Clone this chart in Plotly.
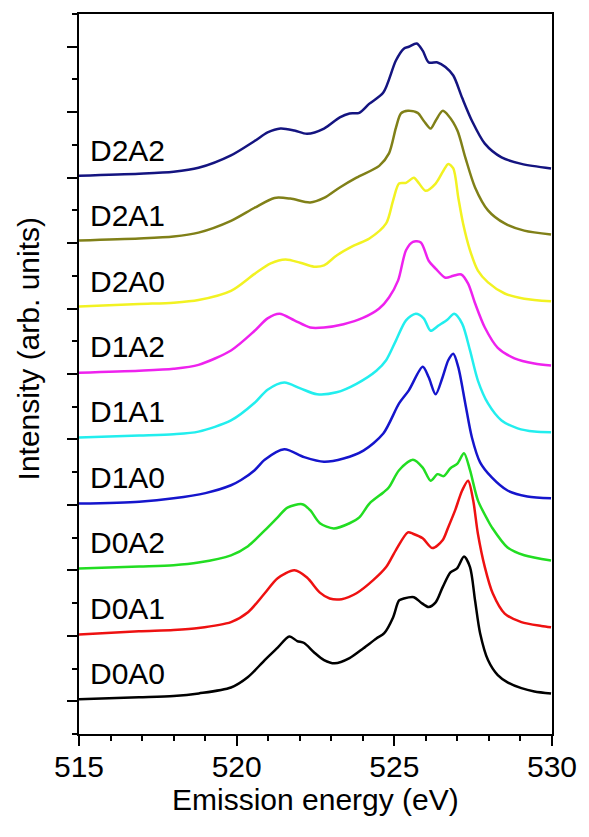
import plotly.graph_objects as go

# Series names (bottom to top) and vertical offsets
names = ["D0A0", "D0A1", "D0A2", "D1A0", "D1A1", "D1A2", "D2A0", "D2A1", "D2A2"]
offsets = [0, 1, 2, 3, 4, 5, 6, 7, 8]
colors = ["#000000", "#ee1111", "#22dd22", "#1515cc", "#22eeee",
          "#ee22ee", "#f2f222", "#808018", "#141480"]

d0a0_e = [515, 516.9, 518, 518.8, 519.82, 520.36, 520.89, 521.3, 521.67, 521.92, 522.14, 522.45, 522.77, 523.11,
          523.58, 524.02, 524.43, 524.68, 524.96, 525.15, 525.3, 525.62, 525.84, 526.09, 526.31, 526.53,
          526.78, 526.99, 527.21, 527.4, 527.56, 527.72, 527.97, 528.28, 528.59, 529.03, 529.44, 529.97]
d0a0_i = [0.03, 0.06, 0.08, 0.12, 0.21, 0.37, 0.63, 0.82, 0.99, 0.92, 0.89, 0.75, 0.63, 0.58,
          0.66, 0.81, 0.96, 1.04, 1.28, 1.54, 1.57, 1.59, 1.51, 1.44, 1.51, 1.74,
          1.97, 2.03, 2.21, 2.05, 1.54, 1.04, 0.63, 0.40, 0.29, 0.20, 0.15, 0.12]

d0a1_e = [515, 516.9, 518, 518.79, 519.82, 520.36, 520.89, 521.3, 521.83, 522.23, 522.64, 522.95, 523.33, 523.8,
          524.33, 524.74, 525.05, 525.43, 525.59, 525.9, 526.21, 526.53, 526.71, 526.93, 527.15, 527.34,
          527.5, 527.65, 527.87, 528.12, 528.5, 529.03, 529.66, 529.97]
d0a1_i = [0.02, 0.07, 0.09, 0.12, 0.21, 0.36, 0.65, 0.88, 1.00, 0.89, 0.66, 0.57, 0.56, 0.65,
          0.85, 1.05, 1.31, 1.58, 1.56, 1.49, 1.34, 1.46, 1.66, 1.92, 2.22, 2.37,
          2.07, 1.56, 1.05, 0.65, 0.34, 0.21, 0.15, 0.13]

d0a2_e = [515, 516.91, 518, 518.79, 519.82, 520.36, 520.89, 521.3, 521.61, 522.08, 522.33, 522.64, 523.08, 523.58,
          523.89, 524.21, 524.65, 524.83, 525.15, 525.59, 525.9, 526.15, 526.37, 526.56, 526.78, 527.0,
          527.21, 527.4, 527.65, 527.97, 528.09, 528.59, 529.12, 529.97]
d0a2_i = [0.03, 0.06, 0.08, 0.12, 0.23, 0.37, 0.61, 0.81, 0.96, 1.01, 0.92, 0.72, 0.64, 0.72,
          0.81, 1.02, 1.19, 1.27, 1.53, 1.69, 1.57, 1.37, 1.47, 1.44, 1.56, 1.63,
          1.79, 1.53, 1.07, 0.76, 0.66, 0.35, 0.23, 0.15]

d1a0_e = [515, 516.91, 518, 519.01, 519.82, 520.14, 520.57, 520.89, 521.51, 522.14, 522.77, 523.39, 524.02, 524.65,
          525.15, 525.46, 525.9, 526.09, 526.31, 526.53, 526.71, 526.87, 527.03, 527.25, 527.46, 527.72,
          528.09, 528.59, 529.22, 529.97]
d1a0_i = [0.02, 0.05, 0.10, 0.18, 0.30, 0.38, 0.53, 0.69, 0.85, 0.73, 0.66, 0.71, 0.83, 1.09,
          1.55, 1.75, 2.11, 1.95, 1.69, 1.95, 2.21, 2.31, 2.10, 1.55, 1.03, 0.65,
          0.42, 0.22, 0.13, 0.10]

d1a1_e = [515, 516.91, 518, 518.79, 519.82, 520.57, 520.98, 521.51, 522.02, 522.55, 523.17, 523.8, 524.43, 524.74,
          525.05, 525.37, 525.68, 525.93, 526.15, 526.4, 526.68, 526.9, 527.15, 527.4, 527.65, 527.97,
          528.4, 528.91, 529.44, 529.97]
d1a1_i = [0.03, 0.06, 0.08, 0.12, 0.29, 0.56, 0.76, 0.87, 0.78, 0.69, 0.72, 0.85, 1.05, 1.21,
          1.51, 1.82, 1.92, 1.85, 1.66, 1.74, 1.83, 1.92, 1.77, 1.36, 0.90, 0.55,
          0.29, 0.17, 0.12, 0.11]

d1a2_e = [515, 516.91, 518, 518.79, 519.82, 520.57, 520.98, 521.36, 521.83, 522.33, 522.77, 523.39, 524.02, 524.52,
          524.83, 525.12, 525.37, 525.59, 525.84, 526.09, 526.31, 526.62, 526.87, 527.12, 527.34, 527.56,
          527.87, 528.28, 528.81, 529.44, 529.97]
d1a2_i = [0.02, 0.05, 0.08, 0.14, 0.36, 0.66, 0.85, 0.92, 0.82, 0.71, 0.71, 0.76, 0.86, 1.00,
          1.17, 1.43, 1.89, 2.02, 2.01, 1.73, 1.61, 1.47, 1.50, 1.52, 1.38, 1.08,
          0.71, 0.40, 0.24, 0.16, 0.13]

d2a0_e = [515, 516.91, 518, 518.79, 519.82, 520.57, 521.08, 521.55, 522.02, 522.45, 522.77, 523.17, 523.71, 524.21,
          524.74, 524.96, 525.15, 525.37, 525.62, 525.77, 525.99, 526.31, 526.56, 526.71, 526.87, 527.03,
          527.18, 527.4, 527.65, 527.97, 528.5, 529.12, 529.97]
d2a0_i = [0.03, 0.07, 0.09, 0.13, 0.27, 0.53, 0.69, 0.75, 0.70, 0.64, 0.66, 0.81, 0.96, 1.07,
          1.30, 1.65, 1.91, 1.92, 2.00, 1.92, 1.80, 1.91, 2.11, 2.21, 2.14, 1.69,
          1.30, 0.89, 0.58, 0.40, 0.23, 0.15, 0.11]

d2a1_e = [515, 516.91, 518, 518.79, 519.82, 520.57, 521.2, 521.7, 522.33, 522.77, 523.27, 523.8, 524.52, 524.83,
          525.05, 525.21, 525.43, 525.74, 525.93, 526.15, 526.31, 526.53, 526.71, 527.0, 527.25, 527.56,
          527.97, 528.5, 529.12, 529.97]
d2a1_i = [0.04, 0.07, 0.10, 0.16, 0.34, 0.54, 0.69, 0.68, 0.62, 0.69, 0.85, 1.00, 1.18, 1.37,
          1.76, 1.98, 2.02, 1.99, 1.87, 1.75, 1.87, 2.02, 1.95, 1.72, 1.31, 0.85,
          0.50, 0.30, 0.19, 0.13]

d2a2_e = [515, 516.91, 518, 518.79, 519.82, 520.57, 520.98, 521.39, 521.83, 522.23, 522.77, 523.27, 523.58, 523.89,
          524.21, 524.65, 525.05, 525.3, 525.46, 525.71, 525.9, 526.09, 526.37, 526.62, 526.87, 527.15,
          527.46, 527.87, 528.4, 529.03, 529.97]
d2a2_i = [0.03, 0.06, 0.09, 0.15, 0.34, 0.56, 0.69, 0.75, 0.72, 0.67, 0.75, 0.92, 0.98, 0.99,
          1.13, 1.30, 1.79, 1.97, 2.00, 2.05, 1.94, 1.76, 1.76, 1.69, 1.56, 1.22,
          0.87, 0.52, 0.31, 0.21, 0.14]

energies = [d0a0_e, d0a1_e, d0a2_e, d1a0_e, d1a1_e, d1a2_e, d2a0_e, d2a1_e, d2a2_e]
intensities = [d0a0_i, d0a1_i, d0a2_i, d1a0_i, d1a1_i, d1a2_i, d2a0_i, d2a1_i, d2a2_i]

x_ticks = [515, 520, 525, 530]
x_title = "Emission energy (eV)"
y_title = "Intensity (arb. units)"

FONT = "Arial, 'Liberation Sans', Helvetica, sans-serif"

fig = go.Figure()
for name, off, col, e, inten in zip(names, offsets, colors, energies, intensities):
    fig.add_trace(go.Scatter(
        x=e, y=[v + off for v in inten], mode="lines", name=name,
        line=dict(color=col, width=2.5, shape="spline", smoothing=0.8),
        showlegend=False, hoverinfo="skip"))
    fig.add_annotation(x=515.28, y=off + 0.42, text=name, showarrow=False,
                       xanchor="left", yanchor="middle",
                       font=dict(family=FONT, size=30, color="#000000"))

# axis titles
fig.add_annotation(xref="paper", yref="paper", x=0.5, y=-0.0915, text=x_title,
                   showarrow=False, xanchor="center", yanchor="middle",
                   font=dict(family=FONT, size=30, color="#000000"))
fig.add_annotation(xref="paper", yref="paper", x=-0.1065, y=0.535, text=y_title,
                   showarrow=False, xanchor="center", yanchor="middle", textangle=-90,
                   font=dict(family=FONT, size=30, color="#000000"))

fig.update_layout(
    width=589, height=837,
    margin=dict(l=79, r=31, t=13, b=103),
    paper_bgcolor="white", plot_bgcolor="white",
    font=dict(family=FONT, size=30, color="#000000"),
    xaxis=dict(
        range=[515, 530], tickvals=x_ticks, ticktext=[str(t) for t in x_ticks],
        ticks="outside", ticklen=10, tickwidth=2, tickcolor="black",
        ticklabelstandoff=-5,
        minor=dict(dtick=1, ticks="outside", ticklen=5, tickwidth=2, tickcolor="black"),
        showline=True, linewidth=2, linecolor="black", mirror=True,
        showgrid=False, zeroline=False,
        tickfont=dict(family=FONT, size=30),
    ),
    yaxis=dict(
        range=[-0.5, 10.5], dtick=1, tick0=0, showticklabels=False,
        ticks="outside", ticklen=10, tickwidth=2, tickcolor="black",
        minor=dict(dtick=0.5, tick0=0, ticks="outside", ticklen=5, tickwidth=2, tickcolor="black"),
        showline=True, linewidth=2, linecolor="black", mirror=True,
        showgrid=False, zeroline=False,
    ),
)

fig.write_html("out.html")
